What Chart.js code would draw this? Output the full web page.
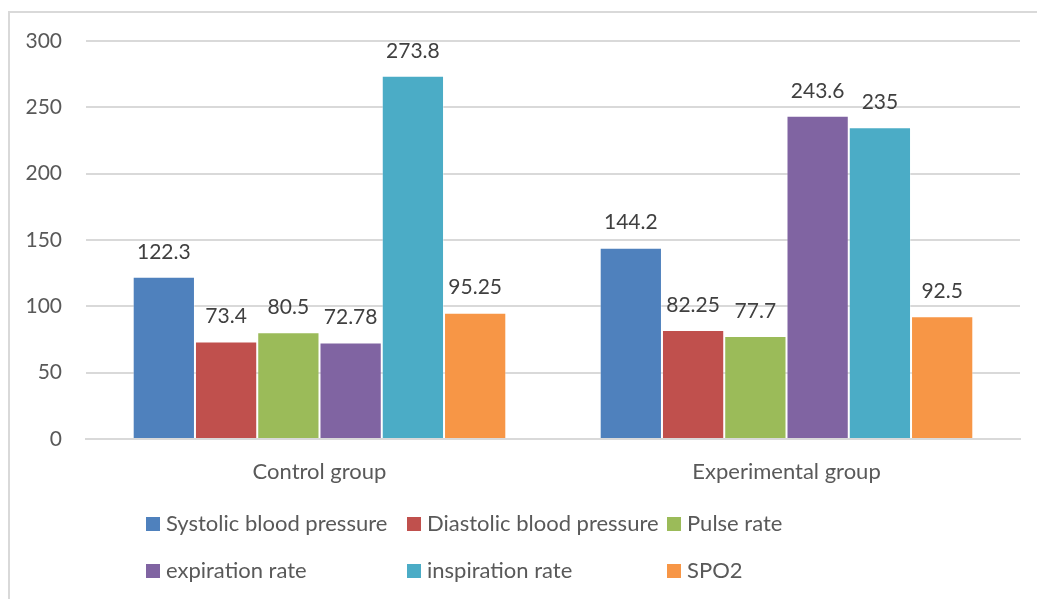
<!DOCTYPE html>
<html>
<head>
<meta charset="utf-8">
<script src="https://cdn.jsdelivr.net/npm/chart.js@4.4.0/dist/chart.umd.min.js"></script>
<style>
  html, body { margin: 0; padding: 0; background: #ffffff; }
  #wrap { position: relative; width: 1037px; height: 599px; }
</style>
</head>
<body>
<div id="wrap"><canvas id="c" width="1037" height="599"></canvas></div>
<script>
const categories = ["Control group", "Experimental group"];
const seriesNames = ["Systolic blood pressure", "Diastolic blood pressure", "Pulse rate", "expiration rate", "inspiration rate", "SPO2"];
const systolic = [122.3, 144.2];
const diastolic = [73.4, 82.25];
const pulse = [80.5, 77.7];
const expiration = [72.78, 243.6];
const inspiration = [273.8, 235];
const spo2 = [95.25, 92.5];
const valueLabels = [["122.3", "144.2"], ["73.4", "82.25"], ["80.5", "77.7"], ["72.78", "243.6"], ["273.8", "235"], ["95.25", "92.5"]];
const yTicks = [0, 50, 100, 150, 200, 250, 300];
const colors = ["#4F81BD", "#C0504D", "#9BBB59", "#8064A2", "#4BACC6", "#F79646"];

const FONT = "Lato, 'Open Sans', sans-serif";
const seriesData = [systolic, diastolic, pulse, expiration, inspiration, spo2];

const frame = {
  id: 'frame',
  beforeDraw(chart) {
    const ctx = chart.ctx;
    ctx.save();
    ctx.strokeStyle = '#d9d9d9';
    ctx.lineWidth = 2;
    ctx.beginPath();
    ctx.moveTo(9, 700);
    ctx.lineTo(9, 12);
    ctx.lineTo(1100, 12);
    ctx.stroke();
    ctx.restore();
  }
};

const valueLabelPlugin = {
  id: 'valueLabels',
  afterDatasetsDraw(chart) {
    const ctx = chart.ctx;
    ctx.save();
    ctx.font = "21px " + FONT;
    ctx.fillStyle = '#404040';
    ctx.textAlign = 'center';
    ctx.textBaseline = 'middle';
    chart.data.datasets.forEach((ds, di) => {
      chart.getDatasetMeta(di).data.forEach((bar, i) => {
        ctx.fillText(valueLabels[di][i], bar.x, bar.y - 25);
      });
    });
    ctx.restore();
  }
};

const legendPlugin = {
  id: 'gridLegend',
  afterDraw(chart) {
    const ctx = chart.ctx;
    const cols = [146, 407, 667];
    const rows = [524, 571];
    ctx.save();
    ctx.font = "22px " + FONT;
    ctx.textBaseline = 'middle';
    ctx.textAlign = 'left';
    chart.data.datasets.forEach((ds, i) => {
      const x = cols[i % 3];
      const y = rows[Math.floor(i / 3)];
      ctx.fillStyle = ds.backgroundColor;
      ctx.fillRect(x, y - 7, 14, 14);
      ctx.fillStyle = '#595959';
      ctx.fillText(ds.label, x + 20, y);
    });
    ctx.restore();
  }
};

new Chart(document.getElementById('c'), {
  type: 'bar',
  data: {
    labels: categories,
    datasets: seriesNames.map((name, i) => ({
      label: name,
      data: seriesData[i],
      backgroundColor: colors[i],
      borderColor: 'rgba(255,255,255,0.35)',
      borderWidth: 1,
      barPercentage: 1.0,
      categoryPercentage: 0.8
    }))
  },
  options: {
    responsive: false,
    animation: false,
    devicePixelRatio: 1,
    layout: { padding: { top: 41, right: 17, bottom: 0, left: 0 } },
    plugins: {
      legend: { display: false },
      tooltip: { enabled: false },
      title: { display: false }
    },
    scales: {
      x: {
        grid: { display: false },
        border: { display: true, color: '#d9d9d9', width: 2 },
        ticks: { color: '#595959', font: { family: FONT, size: 22 }, padding: 12 },
        afterFit(scale) { scale.height = 160; }
      },
      y: {
        min: 0,
        max: 300,
        afterBuildTicks(scale) { scale.ticks = yTicks.map(v => ({ value: v })); },
        grid: { color: '#d9d9d9', lineWidth: 2, drawTicks: false },
        border: { display: false },
        ticks: { color: '#595959', font: { family: FONT, size: 21 }, padding: 24 },
        afterFit(scale) { scale.width = 86; scale.paddingTop = 0; scale.paddingBottom = 0; }
      }
    }
  },
  plugins: [frame, valueLabelPlugin, legendPlugin]
});
</script>
</body>
</html>
